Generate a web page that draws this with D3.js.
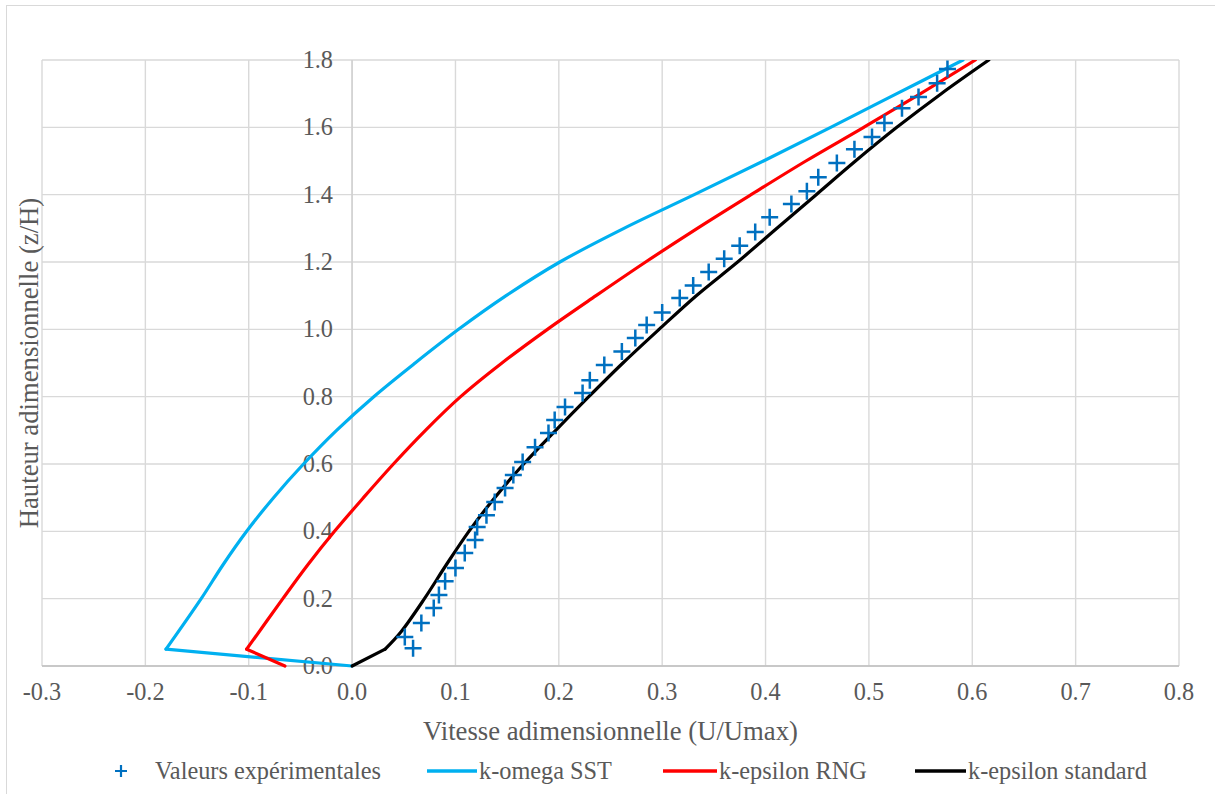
<!DOCTYPE html>
<html><head><meta charset="utf-8">
<script src="https://cdn.jsdelivr.net/npm/d3@7/dist/d3.min.js"></script>
<style>html,body{margin:0;padding:0;background:#fff;}svg{display:block;}
text{font-family:"Liberation Serif","Times New Roman",serif;fill:#595959;}</style>
</head><body>
<svg id="c" width="1215" height="794"></svg>
<script>
const xTicks = [-0.3,-0.2,-0.1,0.0,0.1,0.2,0.3,0.4,0.5,0.6,0.7,0.8];
const yTicks = [0.0,0.2,0.4,0.6,0.8,1.0,1.2,1.4,1.6,1.8];
const seriesNames = ["Valeurs expérimentales","k-omega SST","k-epsilon RNG","k-epsilon standard"];

// experimental values [U/Umax, z/H]
const expX = [0.059,0.051,0.067,0.079,0.084,0.090,0.100,0.109,0.119,0.121,0.130,0.138,0.148,0.156,0.165,0.177,0.190,0.196,0.206,0.223,0.230,0.244,0.261,0.274,0.285,0.300,0.317,0.330,0.345,0.360,0.375,0.390,0.404,0.425,0.440,0.451,0.469,0.486,0.503,0.515,0.532,0.548,0.566,0.576];
const expY = [0.053,0.086,0.128,0.172,0.211,0.252,0.291,0.336,0.374,0.413,0.448,0.487,0.529,0.567,0.606,0.650,0.692,0.731,0.769,0.811,0.849,0.894,0.934,0.974,1.013,1.050,1.093,1.130,1.170,1.210,1.248,1.289,1.333,1.372,1.410,1.452,1.494,1.535,1.571,1.613,1.657,1.690,1.731,1.773];

const sstX = [0,-0.18,-0.146,-0.125,-0.102,-0.076,-0.047,-0.015,0.021,0.061,0.103,0.149,0.201,0.263,0.331,0.398,0.463,0.527,0.591];
const sstY = [0,0.05,0.2,0.3,0.4,0.5,0.6,0.7,0.8,0.9,1.0,1.1,1.2,1.3,1.4,1.5,1.6,1.7,1.8];

const rngX = [-0.065,-0.102,-0.067,-0.043,-0.017,0.011,0.040,0.071,0.105,0.145,0.189,0.236,0.284,0.334,0.386,0.439,0.495,0.550,0.603];
const rngY = [0,0.05,0.2,0.3,0.4,0.5,0.6,0.7,0.8,0.9,1.0,1.1,1.2,1.3,1.4,1.5,1.6,1.7,1.8];

const stdX = [0,0.032,0.047,0.070,0.091,0.113,0.138,0.166,0.197,0.229,0.262,0.297,0.333,0.373,0.411,0.449,0.487,0.527,0.570,0.616];
const stdY = [0,0.05,0.1,0.2,0.3,0.4,0.5,0.6,0.7,0.8,0.9,1.0,1.1,1.2,1.3,1.4,1.5,1.6,1.7,1.8];

const svg = d3.select("#c");
const L=42,R=1179,T=60,B=666;
const x = d3.scaleLinear().domain([-0.3,0.8]).range([L,R]);
const y = d3.scaleLinear().domain([0,1.8]).range([B,T]);
const grid = "#D9D9D9";
const fs = "24.3px";

svg.append("rect").attr("x",6.5).attr("y",5.5).attr("width",1230).attr("height",820)
  .attr("fill","#fff").attr("stroke","#D9D9D9").attr("stroke-width",1);

svg.append("g").selectAll("line").data(xTicks).join("line")
  .attr("x1",d=>x(d)).attr("x2",d=>x(d)).attr("y1",T).attr("y2",B)
  .attr("stroke",grid).attr("stroke-width",1.4);
svg.append("g").selectAll("line").data(yTicks).join("line")
  .attr("x1",L).attr("x2",R).attr("y1",d=>y(d)).attr("y2",d=>y(d))
  .attr("stroke",grid).attr("stroke-width",1.4);
svg.append("line").attr("x1",L).attr("x2",R).attr("y1",B).attr("y2",B).attr("stroke","#BFBFBF").attr("stroke-width",1.4);
svg.append("line").attr("x1",x(0)).attr("x2",x(0)).attr("y1",T).attr("y2",B).attr("stroke","#D0D0D0").attr("stroke-width",1.4);

svg.append("g").selectAll("text").data(xTicks).join("text")
  .attr("x",d=>x(d)).attr("y",700).attr("text-anchor","middle")
  .style("font-size",fs)
  .text(d=>d3.format(".1f")(d).replace("−","-"));
svg.append("g").selectAll("text").data(yTicks).join("text")
  .attr("x",333).attr("y",d=>y(d)+8).attr("text-anchor","end")
  .style("font-size",fs)
  .text(d=>d3.format(".1f")(d));

svg.append("text").attr("x",(L+R)/2).attr("y",740).attr("text-anchor","middle")
  .style("font-size","26.7px")
  .text("Vitesse adimensionnelle (U/Umax)");
svg.append("text").attr("transform",`translate(38,${(T+B)/2}) rotate(-90)`).attr("text-anchor","middle")
  .style("font-size","26.7px")
  .text("Hauteur adimensionnelle (z/H)");

const mk = (xs,ys)=>xs.map((v,i)=>[v,ys[i]]);
const straight = d3.line().x(d=>x(d[0])).y(d=>y(d[1]));
const smooth = d3.line().x(d=>x(d[0])).y(d=>y(d[1])).curve(d3.curveCatmullRom.alpha(0.5));
svg.append("clipPath").attr("id","pc").append("rect").attr("x",L-5).attr("y",T).attr("width",R-L+10).attr("height",B-T+10);
const gp = svg.append("g").attr("clip-path","url(#pc)");

const ms = 8.5;
const eg = svg.append("g");
mk(expX,expY).forEach(d=>{
  const cx=x(d[0]), cy=y(d[1]);
  eg.append("path").attr("d",`M${cx-ms},${cy}H${cx+ms}M${cx},${cy-ms}V${cy+ms}`)
    .attr("stroke","#0070C0").attr("stroke-width",2.5).attr("fill","none");
});

function drawModel(xs,ys,color){
  const pts = mk(xs,ys);
  gp.append("path").datum(pts.slice(0,2)).attr("d",straight).attr("fill","none").attr("stroke",color).attr("stroke-width",3.2).attr("stroke-linecap","round");
  gp.append("path").datum(pts.slice(1)).attr("d",smooth).attr("fill","none").attr("stroke",color).attr("stroke-width",3.2).attr("stroke-linecap","round");
}
drawModel(sstX,sstY,"#00B0F0");
drawModel(rngX,rngY,"#FF0000");
drawModel(stdX,stdY,"#000000");

const lg = svg.append("g");
const ly = 771;
lg.append("path").attr("d",`M${115},${ly}H${127}M${121},${ly-6}V${ly+6}`).attr("stroke","#0070C0").attr("stroke-width",2.2);
lg.append("text").attr("x",155).attr("y",ly+8).style("font-size",fs).text(seriesNames[0]);
const legItems = [[427,477,"#00B0F0",seriesNames[1]],[663,717,"#FF0000",seriesNames[2]],[915,966,"#000000",seriesNames[3]]];
legItems.forEach(it=>{
  lg.append("line").attr("x1",it[0]).attr("x2",it[1]).attr("y1",ly).attr("y2",ly).attr("stroke",it[2]).attr("stroke-width",3.5);
  lg.append("text").attr("x",it[1]+2).attr("y",ly+8).style("font-size",fs).text(it[3]);
});
</script>
</body></html>
